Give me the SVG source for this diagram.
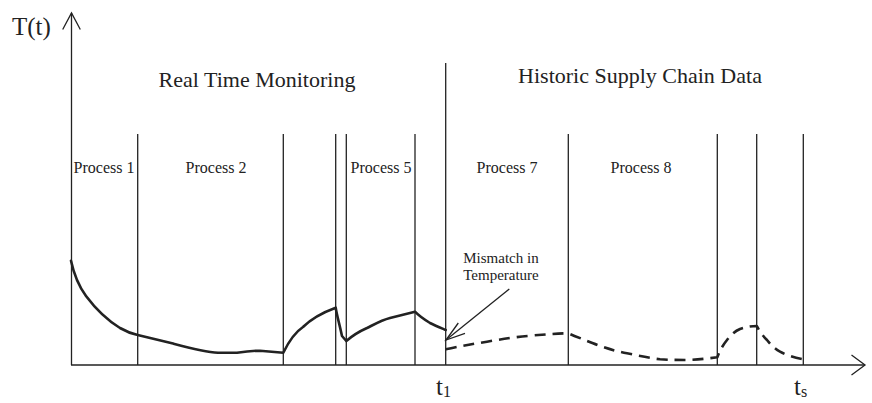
<svg xmlns="http://www.w3.org/2000/svg" width="872" height="403" viewBox="0 0 872 403">
  <style>
    .txt { font-family: "Liberation Serif", "Times New Roman", serif; fill: #222; }
    .thin { stroke: #222; stroke-width: 1.3; fill: none; }
    .curve { stroke: #222; stroke-width: 2.6; fill: none; stroke-linejoin: round; stroke-linecap: round; }
    .dash { stroke-dasharray: 11 7; stroke-linecap: butt; }
  </style>
  <rect width="872" height="403" fill="#fff"/>

  <g id="axes">
    <line class="thin" x1="71.5" y1="13" x2="71.5" y2="365"/>
    <polyline class="thin" points="62.7,29.5 71.5,13 80.3,29.5"/>
    <line class="thin" x1="71" y1="365" x2="865" y2="365"/>
    <polyline class="thin" points="851.5,355 865,365 851.5,375"/>
    <text class="txt" x="12" y="35" font-size="25">T(t)</text>
    <text class="txt" x="436" y="395" font-size="25">t<tspan font-size="16" dy="2">1</tspan></text>
    <text class="txt" x="794" y="395" font-size="25">t<tspan font-size="16" dy="2">s</tspan></text>
  </g>

  <g id="phase-labels">
    <text class="txt" x="257" y="87" font-size="22" text-anchor="middle">Real Time Monitoring</text>
    <text class="txt" x="640" y="83" font-size="22" text-anchor="middle">Historic Supply Chain Data</text>
  </g>

  <g id="dividers">
    <line class="thin" x1="445.7" y1="63" x2="445.7" y2="365"/>
    <line class="thin" x1="137.7" y1="134" x2="137.7" y2="365"/>
    <line class="thin" x1="283.3" y1="134" x2="283.3" y2="365"/>
    <line class="thin" x1="335.7" y1="134" x2="335.7" y2="365"/>
    <line class="thin" x1="346.3" y1="134" x2="346.3" y2="365"/>
    <line class="thin" x1="415" y1="134" x2="415" y2="365"/>
    <line class="thin" x1="568.3" y1="134" x2="568.3" y2="365"/>
    <line class="thin" x1="717.3" y1="134" x2="717.3" y2="365"/>
    <line class="thin" x1="756.7" y1="134" x2="756.7" y2="365"/>
    <line class="thin" x1="803.3" y1="134" x2="803.3" y2="365"/>
  </g>

  <g id="process-labels">
    <text class="txt" x="104" y="173" font-size="16" text-anchor="middle">Process 1</text>
    <text class="txt" x="216" y="173" font-size="16" text-anchor="middle">Process 2</text>
    <text class="txt" x="381" y="173" font-size="16" text-anchor="middle">Process 5</text>
    <text class="txt" x="507" y="173" font-size="16" text-anchor="middle">Process 7</text>
    <text class="txt" x="641" y="173" font-size="16" text-anchor="middle">Process 8</text>
  </g>

  <g id="real-time-curve">
    <path class="curve" d="M71,260.7 C73,270 78,285 86,296 C95,308 107,320 120,328 C127,332 133,334 137.7,335 L173,343.5 C190,348 205,352 218,352.7 L237,352.7 C245,351.5 252,350.7 260,350.7 L283.3,352.7 C288,343 294,333 303,327 C312,318 324,312 335.7,307.7 C337,316 339,322 342,336 L346.3,341 C352,336 358,332 367,328 C375,324 382,320 390,318 L415,311.7 C420,317 425,320 430,323 C436,326 441,328 445.7,330"/>
  </g>

  <g id="historic-curve">
    <path class="curve dash" d="M445.7,349.3 C460,346 473,344 487,341.7 C502,339 516,337 530,335.7 C545,334.5 556,333.5 568.3,333.3 C577,337 585,340 593,343.3 C605,348 615,351 627,353.3 C640,356 650,358 660,359.3 C670,360 678,360 687,360 C697,359.8 707,358.5 717.3,357.3 C720,350 723,345 727,340 C731,335 735,331 740,329 C746,327 751,326 756.7,326 C760,332 763,336 767,340 C771,345 775,349 780,351.7 C788,356 796,358 803.3,359.3"/>
  </g>

  <g id="mismatch-note">
    <text class="txt" x="501" y="263" font-size="15" text-anchor="middle">Mismatch in</text>
    <text class="txt" x="501" y="280" font-size="15" text-anchor="middle">Temperature</text>
    <line class="thin" x1="509.3" y1="289" x2="446" y2="340"/>
    <polyline class="thin" points="458.3,323 446,340 465,333.3"/>
  </g>
</svg>
